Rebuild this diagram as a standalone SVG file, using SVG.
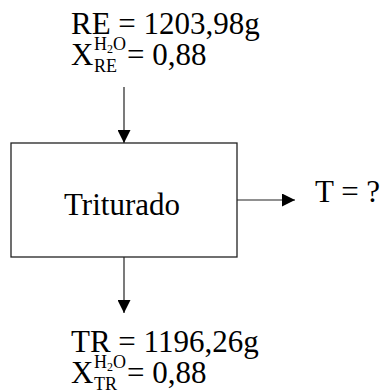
<svg xmlns="http://www.w3.org/2000/svg" width="385" height="392" viewBox="0 0 385 392">
<style>
text{font-family:"Liberation Serif","Times New Roman",serif;fill:#000}
.big{font-size:31px}
.sm{font-size:18px}
.xs{font-size:12px}
.ln{stroke:#222;stroke-width:1.2;fill:none}
</style>
<defs>
<marker id="ah" viewBox="0 0 13 13" refX="13" refY="6.5" markerWidth="13" markerHeight="13" markerUnits="userSpaceOnUse" orient="auto">
<path d="M0,0 L13,6.5 L0,13 Z" fill="#000"/>
</marker>
</defs>
<rect width="385" height="392" fill="#fff"/>
<g id="connectors">
<line class="ln" x1="124" y1="87" x2="124" y2="143" marker-end="url(#ah)"/>
<line class="ln" x1="237" y1="200" x2="295" y2="200" marker-end="url(#ah)"/>
<line class="ln" x1="124" y1="257" x2="124" y2="313" marker-end="url(#ah)"/>
</g>
<g id="node-triturado">
<rect x="11" y="143" width="226" height="114" fill="#fff" stroke="#222" stroke-width="1.3"/>
<text x="122" y="215" style="font-size:31px" text-anchor="middle">Triturado</text>
</g>
<g id="label-re">
<text x="71" y="34" class="big">RE = 1203,98g</text>
<text x="71" y="65" class="big">X</text>
<text x="94" y="50" class="sm">H<tspan class="xs" dy="3">2</tspan><tspan dy="-3">O</tspan></text>
<text x="94" y="72" class="sm">RE</text>
<text x="127" y="65" class="big">= 0,88</text>
</g>
<g id="label-t">
<text x="315" y="202" class="big">T = ?</text>
</g>
<g id="label-tr">
<text x="71" y="352" class="big">TR = 1196,26g</text>
<text x="71" y="383" class="big">X</text>
<text x="94" y="368" class="sm">H<tspan class="xs" dy="3">2</tspan><tspan dy="-3">O</tspan></text>
<text x="94" y="390" class="sm">TR</text>
<text x="127" y="383" class="big">= 0,88</text>
</g>
</svg>
